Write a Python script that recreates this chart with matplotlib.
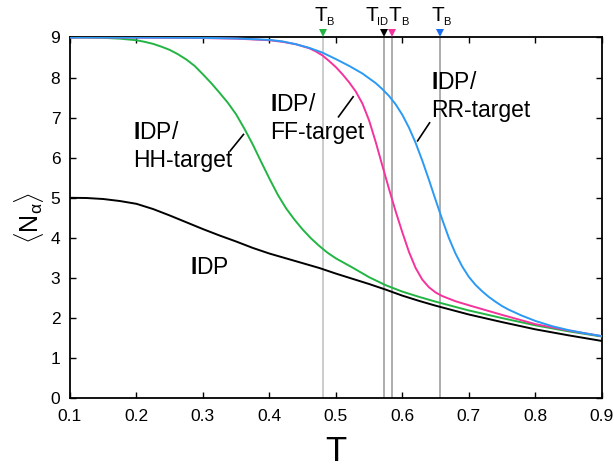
import matplotlib
matplotlib.use("Agg")
import matplotlib.pyplot as plt
from matplotlib.transforms import blended_transform_factory, offset_copy

plt.rcParams['font.family'] = ['Liberation Sans', 'DejaVu Sans']
plt.rcParams['mathtext.fontset'] = 'custom'
plt.rcParams['mathtext.rm'] = 'Liberation Sans'
plt.rcParams['mathtext.it'] = 'Liberation Sans:italic'
plt.rcParams['mathtext.bf'] = 'Liberation Sans:bold'

# ---- data ----
T_idp = [0.10, 0.125, 0.15, 0.175, 0.20, 0.225, 0.25, 0.275, 0.30, 0.325, 0.35,
         0.375, 0.40, 0.425, 0.45, 0.475, 0.50, 0.525, 0.55, 0.575, 0.60,
         0.625, 0.65, 0.675, 0.70, 0.75, 0.80, 0.85, 0.90]
N_idp = [5.00, 4.995, 4.97, 4.92, 4.85, 4.72, 4.56, 4.39, 4.22, 4.06, 3.91,
         3.75, 3.61, 3.49, 3.37, 3.25, 3.11, 2.98, 2.85, 2.71, 2.56,
         2.43, 2.31, 2.20, 2.09, 1.90, 1.72, 1.57, 1.43]

T_hh = [0.10, 0.125, 0.15, 0.175, 0.20, 0.2125, 0.225, 0.2375, 0.25, 0.2625,
        0.275, 0.2875, 0.30, 0.3125, 0.325, 0.3375, 0.35, 0.3625, 0.375,
        0.3875, 0.40, 0.4125, 0.425, 0.4375, 0.45, 0.4625, 0.475, 0.4875,
        0.50, 0.525, 0.55, 0.575, 0.60, 0.625, 0.65, 0.70, 0.75, 0.80,
        0.85, 0.90]
N_hh = [9.00, 8.998, 8.99, 8.97, 8.93, 8.89, 8.84, 8.77, 8.69, 8.58,
        8.45, 8.29, 8.08, 7.86, 7.62, 7.37, 7.08, 6.72, 6.33,
        5.90, 5.48, 5.08, 4.74, 4.46, 4.21, 3.99, 3.80, 3.63,
        3.49, 3.26, 3.02, 2.82, 2.66, 2.53, 2.41, 2.19, 2.00, 1.82,
        1.67, 1.54]

T_ff = [0.10, 0.20, 0.30, 0.35, 0.40, 0.42, 0.44, 0.46, 0.47, 0.48, 0.49,
        0.50, 0.51, 0.52, 0.53, 0.54, 0.55, 0.56, 0.57, 0.58, 0.59, 0.60,
        0.61, 0.62, 0.63, 0.64, 0.65, 0.66, 0.68, 0.70, 0.75, 0.80, 0.85,
        0.90]
N_ff = [9.00, 8.995, 8.985, 8.97, 8.93, 8.89, 8.83, 8.73, 8.65, 8.55, 8.41,
        8.26, 8.08, 7.88, 7.65, 7.35, 6.93, 6.39, 5.80, 5.22, 4.66, 4.14,
        3.65, 3.25, 2.96, 2.77, 2.64, 2.55, 2.42, 2.32, 2.08, 1.85, 1.69,
        1.55]

T_rr = [0.10, 0.20, 0.30, 0.35, 0.40, 0.42, 0.44, 0.46, 0.48, 0.50, 0.52,
        0.54, 0.56, 0.57, 0.58, 0.59, 0.60, 0.61, 0.62, 0.63, 0.64, 0.65,
        0.66, 0.67, 0.68, 0.69, 0.70, 0.71, 0.72, 0.73, 0.74, 0.75, 0.76,
        0.78, 0.80, 0.825, 0.85, 0.875, 0.90]
N_rr = [9.00, 8.997, 8.99, 8.975, 8.94, 8.90, 8.83, 8.74, 8.62, 8.46, 8.29,
        8.10, 7.86, 7.71, 7.54, 7.33, 7.07, 6.75, 6.37, 5.93, 5.45, 4.95,
        4.46, 4.00, 3.61, 3.29, 3.03, 2.83, 2.67, 2.53, 2.41, 2.30, 2.21,
        2.06, 1.93, 1.80, 1.70, 1.62, 1.55]

T_marks = [0.48, 0.572, 0.585, 0.656]
mark_labels = ['B', 'ID', 'B', 'B']

xticks = [0.1, 0.2, 0.3, 0.4, 0.5, 0.6, 0.7, 0.8, 0.9]
yticks = [0, 1, 2, 3, 4, 5, 6, 7, 8, 9]

# ---- styles ----
c_idp = '#000000'
c_hh = '#22b543'
c_ff = '#f5339c'
c_rr = '#2a9af5'
mark_colors = [c_hh, c_idp, c_ff, '#1a6df0']
vline_colors = ['#c4c4c4', '#a0a0a0', '#a0a0a0', '#a0a0a0']

fig = plt.figure(figsize=(6.14, 4.68), dpi=100)
ax = fig.add_axes([0.114, 0.149, 0.866, 0.771])

for t, vc in zip(T_marks, vline_colors):
    ax.axvline(t, color=vc, lw=1.2, zorder=1)

lw = 1.4
ax.plot(T_idp, N_idp, color=c_idp, lw=lw, zorder=3)
ax.plot(T_hh, N_hh, color=c_hh, lw=lw, zorder=3)
ax.plot(T_ff, N_ff, color=c_ff, lw=lw, zorder=3)
ax.plot(T_rr, N_rr, color=c_rr, lw=lw, zorder=3)

ax.set_xlim(0.1, 0.9)
ax.set_ylim(0, 9)
ax.set_xticks(xticks)
ax.set_yticks(yticks)
ax.set_xticklabels([f'{v:.1f}' for v in xticks])
ax.set_yticklabels([str(v) for v in yticks])
ax.tick_params(direction='in', length=4, width=1, top=True, right=True,
               labelsize=12.5)
ax.tick_params(axis='x', pad=8)
ax.tick_params(axis='y', pad=7)
for s in ax.spines.values():
    s.set_linewidth(1.3)

ax.set_xlabel('T', fontsize=25, labelpad=8)
ax.set_ylabel(r'$\langle\mathrm{N}_{\mathrm{\alpha}}\rangle$', fontsize=18,
              labelpad=3)

# top markers and labels
trans = blended_transform_factory(ax.transData, ax.transAxes)
mtrans = offset_copy(trans, fig=fig, y=4.5, units='dots')
t_dx = [-1.5, -12, 3, -1.5]
for t, lab, mc, dx in zip(T_marks, mark_labels, mark_colors, t_dx):
    ax.plot([t], [1.0], marker='v', color=mc, markersize=6, transform=mtrans,
            clip_on=False, zorder=5, markeredgewidth=0)
    ttr = offset_copy(trans, fig=fig, x=dx, y=16, units='dots')
    ax.text(t, 1.0, 'T', transform=ttr, ha='center', va='baseline',
            fontsize=15)
    str_ = offset_copy(trans, fig=fig, x=dx + 5.5, y=12.5, units='dots')
    ax.text(t, 1.0, lab, transform=str_, ha='left', va='baseline',
            fontsize=8)

# curve annotations
fs = 16.5
ax.text(0.1953, 6.46, r'$\mathbf{I}$DP/', fontsize=fs, va='baseline')
ax.text(0.1953, 5.78, 'HH-target', fontsize=fs, va='baseline')
ax.plot([0.341, 0.361], [6.17, 6.58], color='black', lw=1.2)

ax.text(0.4012, 7.17, r'$\mathbf{I}$DP/', fontsize=fs, va='baseline')
ax.text(0.4012, 6.47, 'FF-target', fontsize=fs, va='baseline')
ax.plot([0.504, 0.526], [7.02, 7.52], color='black', lw=1.2)

ax.text(0.6437, 7.71, r'$\mathbf{I}$DP/', fontsize=fs, va='baseline')
ax.text(0.6437, 7.02, 'RR-target', fontsize=fs, va='baseline')
ax.plot([0.623, 0.641], [6.42, 6.87], color='black', lw=1.2)

ax.text(0.2807, 3.09, r'$\mathbf{I}$DP', fontsize=fs, va='baseline')

fig.savefig('out.png', dpi=100)
